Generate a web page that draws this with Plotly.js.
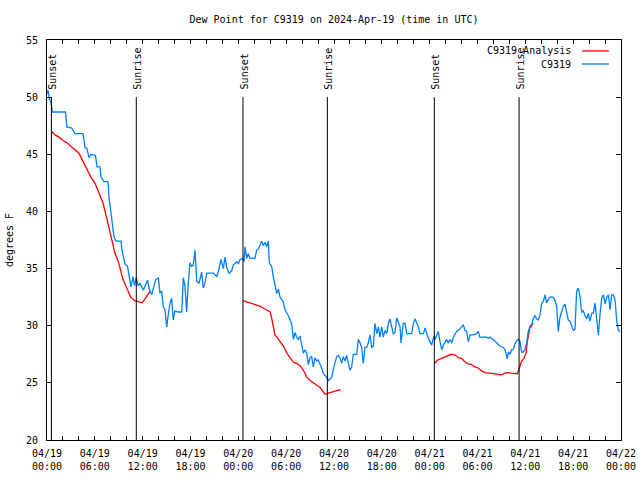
<!DOCTYPE html>
<html><head><meta charset="utf-8">
<script src="https://cdn.plot.ly/plotly-3.0.1.min.js"></script>
<style>html,body{margin:0;padding:0;background:#fff}#chart{width:640px;height:480px}</style>
</head><body><div id="chart"></div>
<script>
const analysisTime = [
"2024-04-19 00:35","2024-04-19 01:00","2024-04-19 01:30","2024-04-19 02:00","2024-04-19 02:30","2024-04-19 03:00","2024-04-19 03:30","2024-04-19 04:00","2024-04-19 04:30","2024-04-19 05:00","2024-04-19 05:30","2024-04-19 06:00","2024-04-19 06:30","2024-04-19 07:00","2024-04-19 07:30","2024-04-19 08:00","2024-04-19 08:30","2024-04-19 09:00","2024-04-19 09:30","2024-04-19 10:00","2024-04-19 10:30","2024-04-19 11:00","2024-04-19 11:30","2024-04-19 11:55","2024-04-19 12:20","2024-04-19 12:45","2024-04-19 12:55",
"2024-04-19 18:00",
"2024-04-20 00:35","2024-04-20 01:00","2024-04-20 02:00","2024-04-20 02:45","2024-04-20 03:30","2024-04-20 04:00","2024-04-20 04:12","2024-04-20 04:23","2024-04-20 04:35","2024-04-20 04:50","2024-04-20 05:15","2024-04-20 05:40","2024-04-20 06:05","2024-04-20 06:30","2024-04-20 06:55","2024-04-20 07:20","2024-04-20 07:45","2024-04-20 08:10","2024-04-20 08:35","2024-04-20 09:00","2024-04-20 09:25","2024-04-20 09:50","2024-04-20 10:15","2024-04-20 10:40","2024-04-20 10:52","2024-04-20 11:17","2024-04-20 11:43","2024-04-20 12:20","2024-04-20 12:50",
"2024-04-20 18:00",
"2024-04-21 00:35","2024-04-21 01:00","2024-04-21 01:30","2024-04-21 02:00","2024-04-21 02:20","2024-04-21 02:45","2024-04-21 03:10","2024-04-21 03:35","2024-04-21 04:00","2024-04-21 04:25","2024-04-21 04:50","2024-04-21 05:15","2024-04-21 05:40","2024-04-21 06:05","2024-04-21 06:30","2024-04-21 06:55","2024-04-21 07:35","2024-04-21 08:10","2024-04-21 08:35","2024-04-21 09:00","2024-04-21 09:25","2024-04-21 09:50","2024-04-21 10:15","2024-04-21 10:40","2024-04-21 11:00","2024-04-21 11:15","2024-04-21 11:30","2024-04-21 11:50","2024-04-21 12:05","2024-04-21 12:15","2024-04-21 12:25","2024-04-21 12:35","2024-04-21 12:50","2024-04-21 13:00"
];
const analysisDewPoint = [
47.0,46.7,46.5,46.2,46.0,45.7,45.4,45.1,44.4,43.7,43.0,42.5,41.6,40.8,39.4,37.9,36.4,35.5,34.1,33.3,32.5,32.2,32.1,32.0,32.4,32.9,33.0,
null,
32.2,32.1,31.9,31.7,31.4,31.2,30.6,29.9,29.2,29.0,28.6,28.2,27.6,27.2,26.8,26.7,26.5,26.1,25.5,25.2,25.0,24.8,24.6,24.2,24.0,24.1,24.2,24.3,24.4,
null,
26.7,27.0,27.15,27.3,27.4,27.5,27.45,27.2,27.15,26.85,26.65,26.6,26.4,26.3,26.05,25.9,25.85,25.8,25.7,25.7,25.85,25.9,25.85,25.8,25.8,26.3,26.85,27.15,27.6,28.6,29.2,29.9,30.15,30.15
];

const obsTime = [
"2024-04-19 00:00","2024-04-19 00:08","2024-04-19 00:18","2024-04-19 00:30","2024-04-19 00:40","2024-04-19 02:19","2024-04-19 02:30","2024-04-19 03:06","2024-04-19 03:30","2024-04-19 04:31","2024-04-19 04:46","2024-04-19 05:01","2024-04-19 05:16","2024-04-19 05:31","2024-04-19 06:05","2024-04-19 06:16","2024-04-19 06:39","2024-04-19 06:46","2024-04-19 07:09","2024-04-19 07:39","2024-04-19 07:47","2024-04-19 08:05","2024-04-19 08:24","2024-04-19 08:39","2024-04-19 09:17","2024-04-19 09:25","2024-04-19 09:47","2024-04-19 10:06","2024-04-19 10:17","2024-04-19 10:32","2024-04-19 10:47","2024-04-19 10:59","2024-04-19 11:12","2024-04-19 11:25","2024-04-19 11:40","2024-04-19 12:05","2024-04-19 12:37","2024-04-19 12:48","2024-04-19 13:08","2024-04-19 13:37","2024-04-19 13:58","2024-04-19 14:10","2024-04-19 14:23","2024-04-19 14:35","2024-04-19 14:48","2024-04-19 15:01","2024-04-19 15:13","2024-04-19 15:26","2024-04-19 15:38","2024-04-19 15:50","2024-04-19 16:03","2024-04-19 16:26","2024-04-19 16:54","2024-04-19 17:06","2024-04-19 17:18","2024-04-19 17:31","2024-04-19 17:43","2024-04-19 17:56","2024-04-19 18:09","2024-04-19 18:21","2024-04-19 18:34","2024-04-19 18:47","2024-04-19 19:04","2024-04-19 19:24","2024-04-19 19:36","2024-04-19 19:49","2024-04-19 20:02","2024-04-19 20:52","2024-04-19 21:17","2024-04-19 21:29","2024-04-19 21:50","2024-04-19 22:07","2024-04-19 22:20","2024-04-19 22:32","2024-04-19 22:50","2024-04-19 23:10","2024-04-19 23:22","2024-04-19 23:48",
"2024-04-20 00:00","2024-04-20 00:13","2024-04-20 00:33","2024-04-20 00:43","2024-04-20 00:50","2024-04-20 01:03","2024-04-20 01:15","2024-04-20 01:28","2024-04-20 02:05","2024-04-20 02:18","2024-04-20 02:30","2024-04-20 02:43","2024-04-20 02:56","2024-04-20 03:08","2024-04-20 03:21","2024-04-20 03:33","2024-04-20 03:46","2024-04-20 03:53","2024-04-20 04:11","2024-04-20 04:23","2024-04-20 04:36","2024-04-20 04:49","2024-04-20 05:01","2024-04-20 05:14","2024-04-20 05:38","2024-04-20 05:51","2024-04-20 06:16","2024-04-20 06:41","2024-04-20 06:54","2024-04-20 07:07","2024-04-20 07:19","2024-04-20 07:31","2024-04-20 07:44","2024-04-20 07:57","2024-04-20 08:09","2024-04-20 08:22","2024-04-20 08:35","2024-04-20 08:47","2024-04-20 08:59","2024-04-20 09:12","2024-04-20 09:24","2024-04-20 09:37","2024-04-20 09:50","2024-04-20 10:02","2024-04-20 10:14","2024-04-20 10:27","2024-04-20 10:40","2024-04-20 11:05","2024-04-20 11:17","2024-04-20 11:43","2024-04-20 11:55","2024-04-20 12:08","2024-04-20 12:20","2024-04-20 12:32","2024-04-20 12:45","2024-04-20 12:58","2024-04-20 13:10","2024-04-20 13:23","2024-04-20 13:35","2024-04-20 13:48","2024-04-20 14:01","2024-04-20 14:13","2024-04-20 14:25","2024-04-20 14:51","2024-04-20 15:03","2024-04-20 15:16","2024-04-20 15:28","2024-04-20 15:40","2024-04-20 15:53","2024-04-20 16:06","2024-04-20 16:18","2024-04-20 16:31","2024-04-20 16:44","2024-04-20 16:56","2024-04-20 17:08","2024-04-20 17:22","2024-04-20 17:34","2024-04-20 17:46","2024-04-20 17:59","2024-04-20 18:11","2024-04-20 18:24","2024-04-20 18:37","2024-04-20 18:49","2024-04-20 19:01","2024-04-20 19:14","2024-04-20 19:26","2024-04-20 19:39","2024-04-20 19:52","2024-04-20 20:04","2024-04-20 20:17","2024-04-20 20:24","2024-04-20 20:41","2024-04-20 20:55","2024-04-20 21:07","2024-04-20 21:45","2024-04-20 21:57","2024-04-20 22:10","2024-04-20 22:23","2024-04-20 22:35","2024-04-20 22:47","2024-04-20 23:13","2024-04-20 23:25","2024-04-20 23:50",
"2024-04-21 00:15","2024-04-21 00:32","2024-04-21 00:40","2024-04-21 01:05","2024-04-21 01:18","2024-04-21 01:31","2024-04-21 01:43","2024-04-21 02:08","2024-04-21 02:20","2024-04-21 02:32","2024-04-21 02:46","2024-04-21 02:58","2024-04-21 03:23","2024-04-21 03:47","2024-04-21 04:13","2024-04-21 04:26","2024-04-21 04:38","2024-04-21 04:51","2024-04-21 05:04","2024-04-21 05:28","2024-04-21 05:53","2024-04-21 06:06","2024-04-21 06:18","2024-04-21 06:44","2024-04-21 07:09","2024-04-21 07:21","2024-04-21 07:34","2024-04-21 07:59","2024-04-21 08:24","2024-04-21 08:49","2024-04-21 09:14","2024-04-21 09:27","2024-04-21 09:34","2024-04-21 09:44","2024-04-21 09:52","2024-04-21 10:05","2024-04-21 10:17","2024-04-21 10:29","2024-04-21 10:42","2024-04-21 10:55","2024-04-21 11:07","2024-04-21 11:20","2024-04-21 11:32","2024-04-21 11:44","2024-04-21 11:57","2024-04-21 12:10","2024-04-21 12:22","2024-04-21 12:34","2024-04-21 12:47","2024-04-21 12:59","2024-04-21 13:12","2024-04-21 13:25","2024-04-21 13:37","2024-04-21 13:50","2024-04-21 14:03","2024-04-21 14:15","2024-04-21 14:28","2024-04-21 14:40","2024-04-21 14:52","2024-04-21 15:05","2024-04-21 15:30","2024-04-21 15:43","2024-04-21 15:56","2024-04-21 16:08","2024-04-21 16:20","2024-04-21 16:33","2024-04-21 16:46","2024-04-21 16:58","2024-04-21 17:11","2024-04-21 17:23","2024-04-21 17:36","2024-04-21 17:49","2024-04-21 18:01","2024-04-21 18:14","2024-04-21 18:26","2024-04-21 18:39","2024-04-21 18:52","2024-04-21 19:04","2024-04-21 19:16","2024-04-21 19:29","2024-04-21 19:42","2024-04-21 19:54","2024-04-21 20:07","2024-04-21 20:20","2024-04-21 20:32","2024-04-21 20:44","2024-04-21 20:58","2024-04-21 21:10","2024-04-21 21:22","2024-04-21 21:35","2024-04-21 21:47","2024-04-21 22:00","2024-04-21 22:13","2024-04-21 22:25","2024-04-21 22:38","2024-04-21 22:50","2024-04-21 23:03","2024-04-21 23:16","2024-04-21 23:28","2024-04-21 23:41","2024-04-21 23:54"
];
const obsDewPoint = [
50.3,50.6,49.8,49.6,48.7,48.7,47.4,47.3,46.8,46.8,45.6,45.5,44.7,45.0,44.9,43.9,43.9,43.0,42.6,42.6,41.2,39.4,37.8,37.4,37.4,36.6,35.4,35.2,34.5,33.4,34.3,33.5,34.2,33.5,33.7,33.1,34.0,33.3,32.7,34.0,34.2,32.9,33.0,31.7,31.4,29.9,31.0,32.0,32.4,30.5,31.3,31.2,31.2,34.2,33.5,31.2,33.7,35.5,35.2,35.3,36.6,33.9,33.7,34.7,33.3,33.7,34.6,34.6,34.3,34.7,35.8,35.0,36.0,35.1,34.6,34.8,35.3,35.6,
35.4,35.8,35.9,35.6,36.9,35.9,36.3,35.9,35.9,36.6,36.7,37.0,37.4,37.0,37.3,36.9,37.4,35.5,35.2,34.3,33.6,32.8,33.2,32.5,32.1,31.4,30.9,30.2,28.8,29.4,29.0,28.8,29.1,28.3,27.6,27.9,27.6,26.6,27.2,27.3,26.4,27.2,26.9,27.0,26.7,26.3,25.8,25.5,25.2,25.5,26.2,26.7,27.3,27.4,27.2,26.7,27.3,26.9,27.4,26.7,26.1,26.4,27.5,27.5,28.8,28.5,28.1,26.7,28.1,28.1,28.5,29.2,28.1,28.2,30.2,29.3,29.9,29.0,29.9,29.0,29.6,29.3,30.2,30.6,29.9,29.3,29.4,30.7,30.3,29.9,28.5,30.2,30.2,29.3,29.3,30.2,30.6,30.3,29.9,29.3,29.3,29.8,28.9,
28.3,29.1,28.8,29.5,28.6,27.9,28.3,28.8,28.5,28.8,28.5,29.0,29.5,29.7,30.1,29.6,29.5,28.6,29.2,29.2,29.3,29.5,29.0,29.0,29.0,28.9,29.0,28.8,28.5,28.2,28.1,27.9,27.6,27.1,27.7,27.5,27.9,27.9,28.4,28.7,28.8,28.6,27.7,27.7,27.9,28.5,29.5,29.9,29.9,30.6,30.9,30.6,30.5,30.9,32.0,32.1,32.7,32.0,32.3,32.5,32.5,32.2,31.7,29.5,30.7,31.2,31.7,31.9,31.2,30.5,30.4,29.9,29.6,29.7,33.0,33.3,32.5,31.2,31.3,30.9,30.6,31.1,30.4,31.1,31.1,32.0,30.4,29.2,31.0,32.4,32.7,31.9,32.5,32.7,31.4,32.7,32.7,32.2,30.4,29.6,29.5
];

const seriesNames = ["C9319 Analysis", "C9319"];
const seriesColors = ["#ff0000", "#0080ff"];
const sunTimes = ["2024-04-19 00:33","2024-04-19 11:12","2024-04-20 00:35","2024-04-20 11:10","2024-04-21 00:35","2024-04-21 11:13"];
const sunLabels = ["Sunset","Sunrise","Sunset","Sunrise","Sunset","Sunrise"];
const xRange = ["2024-04-19 00:00","2024-04-22 00:00"];
const yRange = [20, 55];

const FONT = "DejaVu Sans Mono, Liberation Mono, monospace";

const traces = [
  {x: analysisTime, y: analysisDewPoint, name: seriesNames[0], type: "scatter", mode: "lines",
   line: {color: seriesColors[0], width: 1.3}, connectgaps: false, showlegend: false, hoverinfo: "skip"},
  {x: obsTime, y: obsDewPoint, name: seriesNames[1], type: "scatter", mode: "lines",
   line: {color: seriesColors[1], width: 1.3}, showlegend: false, hoverinfo: "skip"}
];

const shapes = [];
const annotations = [];
sunTimes.forEach((t, i) => {
  shapes.push({type: "line", xref: "x", yref: "y", x0: t, x1: t, y0: yRange[0], y1: 50,
               line: {color: "#000", width: 1}});
  annotations.push({xref: "x", yref: "y", x: t, y: 50.5, text: sunLabels[i], showarrow: false,
                    textangle: -90, xanchor: "center", yanchor: "bottom", xshift: 1,
                    font: {family: FONT, size: 10, color: "#000"}});
});
// legend (text on the left, line sample on the right, as in gnuplot)
const legendRows = [0.9725, 0.94];
seriesNames.forEach((n, i) => {
  annotations.push({xref: "paper", yref: "paper", x: 0.916, y: legendRows[i], text: n, showarrow: false,
                    xanchor: "right", yanchor: "middle", font: {family: FONT, size: 10, color: "#000"}});
  shapes.push({type: "line", xref: "paper", yref: "paper", x0: 0.932, x1: 0.979,
               y0: legendRows[i], y1: legendRows[i], line: {color: seriesColors[i], width: 1.3}});
});

const layout = {
  width: 640, height: 480,
  margin: {l: 47, r: 19, t: 40, b: 40},
  paper_bgcolor: "#fff", plot_bgcolor: "#fff",
  font: {family: FONT, size: 10, color: "#000"},
  title: {text: "Dew Point for C9319 on 2024-Apr-19 (time in UTC)", x: 0.5, xref: "paper",
          y: 1 - 19/480, yref: "container", yanchor: "middle",
          font: {family: FONT, size: 10, color: "#000"}},
  showlegend: false,
  xaxis: {type: "date", range: xRange, tick0: "2024-04-19 00:00", dtick: 6*3600*1000,
          tickformat: "%m/%d<br>%H:%M", ticks: "inside", ticklen: 4, tickcolor: "#000",
          minor: {dtick: 2*3600*1000, ticks: "inside", ticklen: 4, tickcolor: "#000", showgrid: false},
          showline: true, linecolor: "#000", linewidth: 1, mirror: "allticks",
          showgrid: false, zeroline: false, ticklabelstandoff: 4,
          tickfont: {family: FONT, size: 10, color: "#000"}},
  yaxis: {range: yRange, dtick: 5, tick0: 20, ticks: "inside", ticklen: 5, tickcolor: "#000",
          showline: true, linecolor: "#000", linewidth: 1, mirror: "allticks",
          showgrid: false, zeroline: false, ticklabelstandoff: 6,
          tickfont: {family: FONT, size: 10, color: "#000"},
          title: {text: "degrees F", standoff: 10, font: {family: FONT, size: 10, color: "#000"}}},
  shapes: shapes,
  annotations: annotations
};

Plotly.newPlot("chart", traces, layout, {staticPlot: true, displayModeBar: false});
</script>
</body></html>
